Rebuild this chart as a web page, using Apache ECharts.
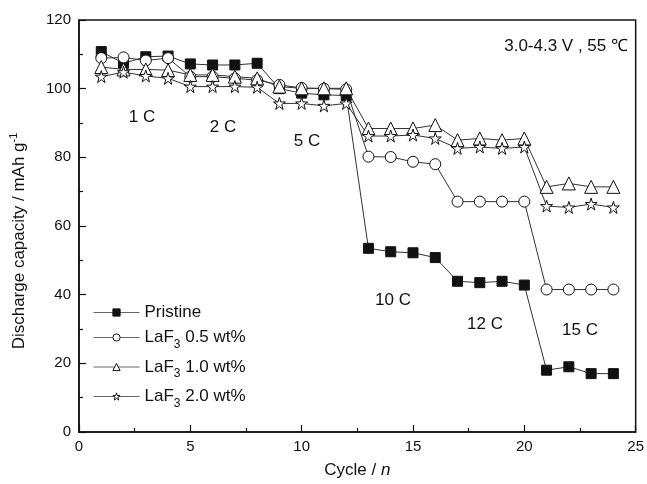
<!DOCTYPE html>
<html><head><meta charset="utf-8">
<script src="https://cdn.jsdelivr.net/npm/echarts@6/dist/echarts.min.js"></script>
<style>html,body{margin:0;padding:0;background:#fff}#c{width:647px;height:484px}</style>
</head><body><div id="c"></div>
<script>
var cycles = [1,2,3,4,5,6,7,8,9,10,11,12,13,14,15,16,17,18,19,20,21,22,23,24];
var pristine = [110.8,107.4,109.3,109.5,107.2,106.9,106.9,107.4,100.0,98.7,98.2,98.0,53.5,52.5,52.2,50.8,43.9,43.5,43.9,42.8,18.0,19.0,17.0,17.0];
var laf05 = [108.9,109.1,108.2,108.9,103.5,103.5,103.0,102.5,101.1,100.2,100.0,99.8,80.2,80.1,78.7,78.0,67.1,67.1,67.1,67.1,41.5,41.5,41.5,41.5];
var laf10 = [106.3,105.6,105.6,105.4,104.0,104.0,103.5,103.0,100.6,100.1,100.1,100.1,88.4,88.4,88.4,89.4,85.0,85.5,85.0,85.5,71.4,72.4,71.4,71.4];
var laf20 = [103.5,104.8,103.7,103.0,100.6,100.6,100.6,100.4,95.7,95.7,95.0,95.7,86.2,86.2,86.5,85.5,82.6,83.0,82.6,83.0,65.8,65.4,66.4,65.4];
var seriesNames = ['Pristine','LaF3 0.5 wt%','LaF3 1.0 wt%','LaF3 2.0 wt%'];
var xTicks = [0,5,10,15,20,25];
var yTicks = [0,20,40,60,80,100,120];
var rateLabels = [
  {text:'1 C', x:142, y:117},{text:'2 C', x:223, y:127},{text:'5 C', x:307, y:141},
  {text:'10 C', x:393, y:300},{text:'12 C', x:485, y:324},{text:'15 C', x:580, y:330}
];
var condition = '3.0-4.3 V , 55 \u2103';

function pair(arr){ return cycles.map(function(c,i){return [c,arr[i]];}); }
var star = 'path://M50,2 L61,36 L97,36 L68,57 L79,92 L50,70 L21,92 L32,57 L3,36 L39,36 Z';
var font = 'Liberation Sans, Arial, sans-serif';
var chart = echarts.init(document.getElementById('c'), null, {renderer:'canvas'});
var lineStyle = {color:'#333', width:1};
var mk = function(name, data, symbol, size, fill){
  return {name:name, type:'line', data:pair(data), symbol:symbol, symbolSize:size,
    lineStyle:lineStyle, itemStyle:{color:fill, borderColor:'#111', borderWidth:1},
    emphasis:{disabled:true}, animation:false};
};
var legendRich = {t:{fontSize:17, fontFamily:font, color:'#111'}, p:{fontSize:17, lineHeight:14, fontFamily:font, color:'#111'}, s:{fontSize:12, fontFamily:font, color:'#111', padding:[14,0,0,0]}};
var legendFills = ['#111','#fff','#fff','#fff'];
var option = {
  backgroundColor:'#fff',
  animation:false,
  grid:{left:78, right:11, top:20, bottom:52, show:true, borderColor:'#111', borderWidth:1.5},
  xAxis:{type:'value', min:0, max:25, interval:5,
    name:'Cycle / {i|n}', nameLocation:'middle', nameGap:30,
    nameTextStyle:{fontSize:17, fontFamily:font, color:'#111', rich:{i:{fontStyle:'italic', fontSize:17, fontFamily:font, color:'#111'}}},
    axisLine:{lineStyle:{color:'#111', width:1.5}},
    axisTick:{inside:true, length:7, lineStyle:{color:'#111', width:1.2}},
    minorTick:{show:true, splitNumber:2, length:4, lineStyle:{color:'#111', width:1.2}},
    splitLine:{show:false},
    axisLabel:{fontSize:15, fontFamily:font, color:'#111', margin:7,
      formatter:function(v){return xTicks.indexOf(v)>=0 ? String(v) : '';}}
  },
  yAxis:{type:'value', min:0, max:120, interval:20,
    name:'{t|Discharge capacity / mAh g}{s|-1}', nameLocation:'middle', nameGap:48,
    nameTextStyle:{padding:[0,30,0,0], rich:{t:{fontSize:17, fontFamily:font, color:'#111'}, s:{fontSize:11, fontFamily:font, color:'#111', padding:[0,0,12,0]}}},
    axisLine:{show:true, lineStyle:{color:'#111', width:1.5}},
    axisTick:{inside:true, length:7, lineStyle:{color:'#111', width:1.2}},
    minorTick:{show:true, splitNumber:2, length:4, lineStyle:{color:'#111', width:1.2}},
    splitLine:{show:false},
    axisLabel:{fontSize:15, fontFamily:font, color:'#111', margin:8,
      formatter:function(v){return yTicks.indexOf(v)>=0 ? String(v) : '';}}
  },
  legend:{orient:'vertical', left:88, top:299, itemWidth:46, itemHeight:9, itemGap:8,
    selectedMode:false,
    data:seriesNames.map(function(n,i){return {name:n, itemStyle:{color:legendFills[i], borderColor:'#111', borderWidth:1}};}),
    lineStyle:{color:'#666', width:1},
    textStyle:{fontSize:17, fontFamily:font, color:'#111', rich:legendRich},
    formatter:function(n){ if(n.indexOf('LaF3')===0){ return '{t|LaF}{s|3}{t|'+n.slice(4)+'}'; } return '{p|'+n+'}'; }
  },
  series:[
    mk(seriesNames[0], pristine, 'rect', 10, '#111'),
    mk(seriesNames[1], laf05, 'circle', 11, '#fff'),
    mk(seriesNames[2], laf10, 'triangle', 13, '#fff'),
    mk(seriesNames[3], laf20, star, 12, '#fff')
  ],
  graphic: rateLabels.map(function(l){
    return {type:'text', x:l.x, y:l.y, style:{text:l.text, font:'17px '+font, fill:'#111', align:'center', verticalAlign:'middle'}};
  }).concat([
    {type:'text', x:628, y:46, style:{text:condition, font:'17px '+font, fill:'#111', align:'right', verticalAlign:'middle'}}
  ])
};
chart.setOption(option);
</script></body></html>
